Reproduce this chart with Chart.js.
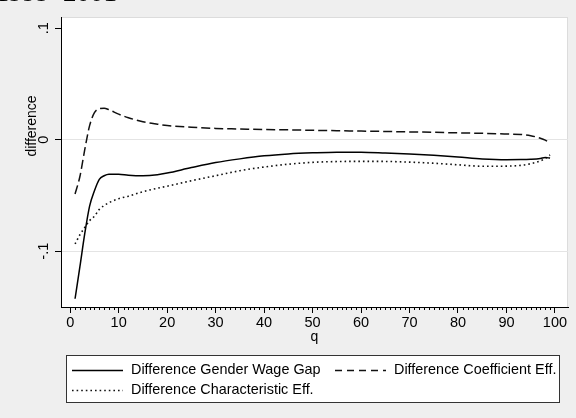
<!DOCTYPE html>
<html>
<head>
<meta charset="utf-8">
<script src="https://cdn.jsdelivr.net/npm/chart.js@4"></script>
<style>
  html, body { margin: 0; padding: 0; background: #efefef; }
  #wrap { width: 576px; height: 418px; }
</style>
</head>
<body>
<div id="wrap"><canvas id="diff_chart"></canvas></div>
<script>
const quantiles = [
    1, 2, 3, 4, 5, 6, 7, 8, 10, 12, 15, 18, 20, 25, 30, 35,
    40, 45, 50, 55, 60, 65, 70, 75, 80, 85, 90, 93, 95, 97, 98, 99
];

const gapDiff = [
    -0.1426, -0.1139, -0.0843, -0.0595, -0.0457, -0.0355, -0.0323, -0.0309,
    -0.0309, -0.0318, -0.0323, -0.0314, -0.0299, -0.0250, -0.0205, -0.0172,
    -0.0145, -0.0128, -0.0118, -0.0112, -0.0112, -0.0119, -0.0128, -0.0140,
    -0.0155, -0.0172, -0.0179, -0.0178, -0.0175, -0.0168, -0.0160, -0.0165
];

const coefDiff = [
    -0.0487, -0.0330, -0.0090, 0.0126, 0.0242, 0.0278, 0.0283, 0.0269,
    0.0229, 0.0197, 0.0161, 0.0139, 0.0127, 0.0112, 0.0101, 0.0096,
    0.0091, 0.0088, 0.0084, 0.0081, 0.0077, 0.0074, 0.0070, 0.0066,
    0.0061, 0.0057, 0.0051, 0.0047, 0.0036, 0.0013, -0.0004, -0.0030
];

const charDiff = [
    -0.0935, -0.0852, -0.0787, -0.0726, -0.0686, -0.0625, -0.0590, -0.0565,
    -0.0529, -0.0507, -0.0466, -0.0435, -0.0417, -0.0368, -0.0323, -0.0278,
    -0.0245, -0.0220, -0.0203, -0.0196, -0.0194, -0.0195, -0.0201, -0.0211,
    -0.0225, -0.0238, -0.0237, -0.0230, -0.0215, -0.0190, -0.0168, -0.0137
];

const xTicks = [0, 10, 20, 30, 40, 50, 60, 70, 80, 90, 100];
const yTicks = [-0.1, 0, 0.1];
const yTickLabels = { '-0.1': '-.1', '0': '0', '0.1': '.1' };

const seriesNames = [
    'Difference Gender Wage Gap',
    'Difference Coefficient Eff.',
    'Difference Characteristic Eff.'
];
const yTitle = 'difference';
const xTitle = 'q';
const topTitle = '1999\u20132001';

const toPoints = vals => vals.map((v, i) => ({ x: quantiles[i], y: v }));
const FONT = 'Liberation Sans, Arial, Helvetica, sans-serif';

// white plot region + cut-off title at the very top
const backdrop = {
    id: 'backdrop',
    beforeDraw(chart) {
        const { ctx, chartArea: a } = chart;
        ctx.save();
        ctx.fillStyle = '#efefef';
        ctx.fillRect(0, 0, chart.width, chart.height);
        ctx.fillStyle = '#ffffff';
        ctx.fillRect(a.left, a.top, a.right - a.left, a.bottom - a.top);
        ctx.strokeStyle = '#dcdcdc';
        ctx.lineWidth = 1;
        ctx.strokeRect(a.left + 0.5, a.top + 0.5, a.right - a.left - 1, a.bottom - a.top);
        ctx.fillStyle = '#000';
        ctx.font = '27px "Liberation Serif", serif';
        ctx.textBaseline = 'alphabetic';
        ctx.textAlign = 'left';
        ctx.fillText(topTitle, -4.5, 0.8);
        ctx.restore();
    }
};

// minor ticks on x axis, y title and the boxed legend
const extras = {
    id: 'extras',
    afterDraw(chart) {
        const { ctx } = chart;
        const xs = chart.scales.x;
        ctx.save();
        ctx.strokeStyle = '#000';
        ctx.lineWidth = 1;
        ctx.beginPath();
        for (let i = 1; i < 100; i++) {
            if (i % 10 === 0) continue;
            const px = Math.round(xs.getPixelForValue(i)) + 0.5;
            ctx.moveTo(px, xs.top);
            ctx.lineTo(px, xs.top + 3);
        }
        ctx.stroke();

        // y axis title (stata puts it a bit above the middle)
        ctx.save();
        ctx.translate(32, 126);
        ctx.rotate(-Math.PI / 2);
        ctx.fillStyle = '#000';
        ctx.font = '14px ' + FONT;
        ctx.textAlign = 'center';
        ctx.textBaseline = 'middle';
        ctx.fillText(yTitle, 0, 0);
        ctx.restore();

        // legend box
        ctx.fillStyle = '#ffffff';
        ctx.fillRect(66, 355, 494, 48);
        ctx.strokeStyle = '#333';
        ctx.strokeRect(66.5, 355.5, 493, 47);
        const slots = [
            { ds: 0, x: 72, y: 370 },
            { ds: 1, x: 335, y: 370 },
            { ds: 2, x: 72, y: 390 }
        ];
        ctx.font = '14.4px ' + FONT;
        ctx.textBaseline = 'middle';
        ctx.textAlign = 'left';
        slots.forEach(s => {
            const d = chart.data.datasets[s.ds];
            ctx.strokeStyle = d.borderColor;
            ctx.lineWidth = d.borderWidth;
            ctx.setLineDash(s.ds === 1 ? [7, 5] : (d.borderDash || []));
            ctx.beginPath();
            ctx.moveTo(s.x, s.y + 0.5);
            ctx.lineTo(s.x + 51, s.y + 0.5);
            ctx.stroke();
            ctx.setLineDash([]);
            ctx.fillStyle = '#000';
            ctx.fillText(d.label, s.x + 59, s.y);
        });
        ctx.restore();
    }
};

const ctx = document.getElementById('diff_chart').getContext('2d');
const diffChart = new Chart(ctx, {
    type: 'line',
    data: {
        datasets: [{
            label: seriesNames[0],
            data: toPoints(gapDiff),
            borderColor: '#000',
            borderWidth: 1.5,
            pointRadius: 0,
            cubicInterpolationMode: 'monotone'
        }, {
            label: seriesNames[1],
            data: toPoints(coefDiff),
            borderColor: '#111',
            borderWidth: 1.5,
            borderDash: [9, 4],
            pointRadius: 0,
            cubicInterpolationMode: 'monotone'
        }, {
            label: seriesNames[2],
            data: toPoints(charDiff),
            borderColor: '#111',
            borderWidth: 1.6,
            borderDash: [1.6, 3],
            pointRadius: 0,
            cubicInterpolationMode: 'monotone'
        }]
    },
    options: {
        responsive: true,
        maintainAspectRatio: false,
        animation: false,
        layout: { padding: { top: 17, right: 8, left: 0, bottom: 0 } },
        plugins: {
            legend: { display: false },
            tooltip: { enabled: false }
        },
        scales: {
            x: {
                type: 'linear',
                min: -1.9,
                max: 102.7,
                afterBuildTicks: axis => { axis.ticks = xTicks.map(v => ({ value: v })); },
                afterFit: axis => { axis.height = 111; },
                ticks: {
                    color: '#000',
                    font: { size: 14.5, family: FONT },
                    padding: 1,
                    maxRotation: 0,
                    autoSkip: false
                },
                grid: {
                    drawOnChartArea: false,
                    drawTicks: true,
                    tickLength: 6,
                    tickColor: '#000'
                },
                border: { color: '#000', width: 1 },
                title: {
                    display: true,
                    text: xTitle,
                    color: '#000',
                    font: { size: 14, family: FONT },
                    padding: { top: 0, bottom: 72 }
                }
            },
            y: {
                min: -0.150,
                max: 0.110,
                afterBuildTicks: axis => { axis.ticks = yTicks.map(v => ({ value: v })); },
                afterFit: axis => { axis.width = 61; },
                ticks: {
                    color: '#000',
                    font: { size: 14.5, family: FONT },
                    minRotation: 90,
                    maxRotation: 90,
                    crossAlign: 'center',
                    padding: 2.5,
                    callback: v => yTickLabels[String(Math.round(v * 10) / 10)]
                },
                grid: {
                    color: c => (c.tick && c.tick.value !== 0.1) ? '#e4e4e4' : 'rgba(0,0,0,0)',
                    tickColor: '#000',
                    tickLength: 6
                },
                border: { color: '#000', width: 1 },
                title: { display: false }
            }
        }
    },
    plugins: [backdrop, extras]
});
</script>
</body>
</html>
